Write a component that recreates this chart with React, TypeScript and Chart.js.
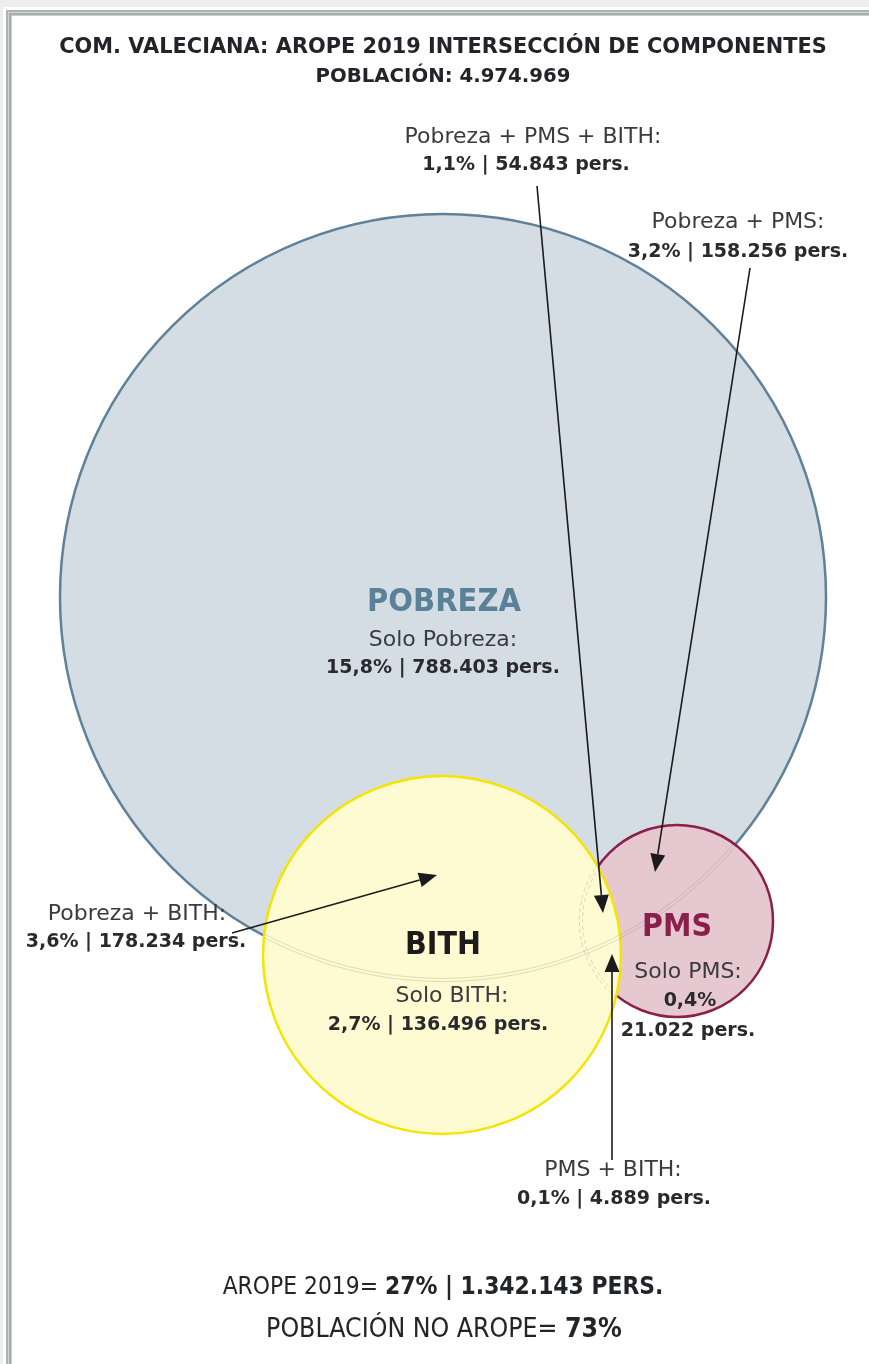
import { useEffect, useRef } from "react";
import { Chart, registerables } from "chart.js";

Chart.register(...registerables);

const CANVAS_W = 869;
const CANVAS_H = 1364;

// ---- Data ----
const titleLine = "COM. VALECIANA: AROPE 2019 INTERSECCIÓN DE COMPONENTES";
const population = 4974969;
const aropeTotalPersons = 1342143;
const aropePct = 27;
const noAropePct = 73;

const setNames = ["POBREZA", "BITH", "PMS"];
// Circle centres and radii in diagram units
const setCenterX = [443, 442, 677];
const setCenterY = [597, 955, 921];
const setRadius = [383, 179, 96];
const setFill = ["#d4dde4", "#fefbd2", "#e6c8d1"];
const setStroke = ["#5f8199", "#f5e400", "#8a2049"];
const setLabelColor = ["#5b8199", "#1c1c1c", "#8b1f4b"];
const setDrawOrder = [3, 1, 2];

const segmentNames = [
  "Solo Pobreza:",
  "Solo BITH:",
  "Solo PMS:",
  "Pobreza + PMS + BITH:",
  "Pobreza + PMS:",
  "Pobreza + BITH:",
  "PMS + BITH:",
];
const segmentPct = [15.8, 2.7, 0.4, 1.1, 3.2, 3.6, 0.1];
const segmentPersons = [788403, 136496, 21022, 54843, 158256, 178234, 4889];

// label layout: [nameCx, nameCy, valueCx, valueCy]
const segmentLabelLayout = [
  [443, 640, 443, 668],
  [452, 996, 438, 1025],
  [688, 972, 688, 1031],
  [533, 137, 526, 165],
  [738, 222, 738, 252],
  [137, 914, 136, 942],
  [613, 1170, 614, 1199],
];

// arrows for segments 3..6
const arrowSegments = [3, 4, 5, 6];
const arrowFrom = [
  [537, 186],
  [750, 268],
  [232, 933],
  [612, 1160],
];
const arrowTo = [
  [603, 913],
  [655, 872],
  [437, 875],
  [612, 954],
];

// set name label layout [cx, cy, w]
const setLabelLayout = [
  [444, 603, 154],
  [443, 946, 76],
  [677, 928, 70],
];

const LABEL_FONT = '"DejaVu Sans", "Noto Sans", sans-serif';
const TITLE_FONT = '"DejaVu Sans", "Noto Sans", sans-serif';
const COND_FONT = '"Liberation Sans Narrow", "DejaVu Sans Condensed", "Roboto", sans-serif';

const fmtInt = (n: number) => String(n).replace(/\B(?=(\d{3})+(?!\d))/g, ".");
const fmtPct = (p: number) => p.toFixed(1).replace(".", ",") + "%";

type Run = { t: string; bold: boolean };
type TextItem = { runs: Run[]; cx: number; cy: number; w: number; size?: number; family: string; color: string };

function fitSize(ctx: CanvasRenderingContext2D, text: string, bold: boolean, family: string, w: number) {
  ctx.font = `${bold ? "bold" : "normal"} 100px ${family}`;
  return (100 * w) / ctx.measureText(text).width;
}

function buildTexts(ctx: CanvasRenderingContext2D): TextItem[] {
  const nameSize = fitSize(ctx, "Pobreza + PMS + BITH:", false, LABEL_FONT, 257);
  const valueSize = fitSize(ctx, "15,8% | 788.403 pers.", true, LABEL_FONT, 234);
  const items: TextItem[] = [];
  items.push({ runs: [{ t: titleLine, bold: true }], cx: 443, cy: 48, w: 768, family: TITLE_FONT, color: "#23232a" });
  items.push({
    runs: [{ t: "POBLACIÓN: " + fmtInt(population), bold: true }],
    cx: 443, cy: 77, w: 255, family: TITLE_FONT, color: "#23232a",
  });
  setNames.forEach((n, i) => {
    const [cx, cy, w] = setLabelLayout[i];
    items.push({ runs: [{ t: n, bold: true }], cx, cy, w, family: COND_FONT, color: setLabelColor[i] });
  });
  segmentNames.forEach((n, i) => {
    const [ncx, ncy, vcx, vcy] = segmentLabelLayout[i];
    items.push({ runs: [{ t: n, bold: false }], cx: ncx, cy: ncy, w: 0, size: nameSize, family: LABEL_FONT, color: "#3a3a40" });
    if (i === 2) {
      items.push({ runs: [{ t: fmtPct(segmentPct[i]), bold: true }], cx: 690, cy: 1001, w: 0, size: valueSize, family: LABEL_FONT, color: "#2a2a2e" });
      items.push({ runs: [{ t: fmtInt(segmentPersons[i]) + " pers.", bold: true }], cx: vcx, cy: vcy, w: 0, size: valueSize, family: LABEL_FONT, color: "#2a2a2e" });
    } else {
      items.push({
        runs: [{ t: fmtPct(segmentPct[i]) + " | " + fmtInt(segmentPersons[i]) + " pers.", bold: true }],
        cx: vcx, cy: vcy, w: 0, size: valueSize, family: LABEL_FONT, color: "#2a2a2e",
      });
    }
  });
  items.push({
    runs: [
      { t: "AROPE 2019= ", bold: false },
      { t: aropePct + "% | " + fmtInt(aropeTotalPersons) + " PERS.", bold: true },
    ],
    cx: 443, cy: 1288, w: 441, family: COND_FONT, color: "#23232a",
  });
  items.push({
    runs: [
      { t: "POBLACIÓN NO AROPE= ", bold: false },
      { t: noAropePct + "%", bold: true },
    ],
    cx: 444, cy: 1330, w: 356, family: COND_FONT, color: "#23232a",
  });
  return items;
}

function drawTextItem(ctx: CanvasRenderingContext2D, it: TextItem, px: (v: number) => number, py: (v: number) => number) {
  let size: number;
  if (it.size) {
    size = it.size;
  } else {
    const base = 100;
    const total = it.runs
      .map((r) => {
        ctx.font = `${r.bold ? "bold" : "normal"} ${base}px ${it.family}`;
        return ctx.measureText(r.t).width;
      })
      .reduce((a, b) => a + b, 0);
    const targetW = px(it.cx + it.w / 2) - px(it.cx - it.w / 2);
    size = (base * targetW) / total;
  }
  const widths = it.runs.map((r) => {
    ctx.font = `${r.bold ? "bold" : "normal"} ${size}px ${it.family}`;
    return ctx.measureText(r.t).width;
  });
  const total = widths.reduce((a, b) => a + b, 0);
  let x = px(it.cx) - total / 2;
  const y = py(it.cy);
  ctx.textBaseline = "middle";
  ctx.textAlign = "left";
  ctx.fillStyle = it.color;
  it.runs.forEach((r, k) => {
    ctx.font = `${r.bold ? "bold" : "normal"} ${size}px ${it.family}`;
    ctx.fillText(r.t, x, y);
    x += widths[k];
  });
}

function drawArrow(ctx: CanvasRenderingContext2D, x1: number, y1: number, x2: number, y2: number) {
  const ang = Math.atan2(y2 - y1, x2 - x1);
  const headL = 18;
  const headW = 7.5;
  const bx = x2 - headL * Math.cos(ang);
  const by = y2 - headL * Math.sin(ang);
  ctx.strokeStyle = "#1b1b1b";
  ctx.fillStyle = "#1b1b1b";
  ctx.lineWidth = 1.6;
  ctx.beginPath();
  ctx.moveTo(x1, y1);
  ctx.lineTo(bx, by);
  ctx.stroke();
  ctx.beginPath();
  ctx.moveTo(x2, y2);
  ctx.lineTo(bx + headW * Math.sin(ang), by - headW * Math.cos(ang));
  ctx.lineTo(bx - headW * Math.sin(ang), by + headW * Math.cos(ang));
  ctx.closePath();
  ctx.fill();
}

const framePlugin = {
  id: "frame",
  beforeDraw(chart: any) {
    const ctx: CanvasRenderingContext2D = chart.ctx;
    const W = chart.width;
    const H = chart.height;
    ctx.save();
    ctx.fillStyle = "#eeeeee";
    ctx.fillRect(0, 0, W, H);
    ctx.fillStyle = "#ffffff";
    ctx.fillRect(3, 7, W, H);
    ctx.fillStyle = "#aeb3b3";
    ctx.fillRect(6, 10, W, H);
    ctx.fillStyle = "#d2d6d6";
    ctx.fillRect(8, 12, W, H);
    ctx.fillStyle = "#a8adad";
    ctx.fillRect(9, 13, W, H);
    ctx.fillStyle = "#c9cdcd";
    ctx.fillRect(11, 15, W, H);
    ctx.fillStyle = "#ffffff";
    ctx.fillRect(12, 16, W, H);
    ctx.restore();
  },
};

const overlayPlugin = {
  id: "overlay",
  afterDatasetsDraw(chart: any) {
    const ctx: CanvasRenderingContext2D = chart.ctx;
    const xs = chart.scales.x;
    const ys = chart.scales.y;
    const px = (v: number) => xs.getPixelForValue(v);
    const py = (v: number) => ys.getPixelForValue(v);
    const el = (i: number) => {
      const e = chart.getDatasetMeta(i).data[0];
      return { x: e.x, y: e.y, r: e.options.radius };
    };
    const pob = el(0);
    const bith = el(1);
    const pms = el(2);

    ctx.save();
    // faint hidden outline of POBREZA inside BITH and PMS
    ctx.beginPath();
    ctx.arc(bith.x, bith.y, bith.r - 1, 0, Math.PI * 2);
    ctx.moveTo(pms.x + pms.r - 1, pms.y);
    ctx.arc(pms.x, pms.y, pms.r - 1, 0, Math.PI * 2);
    ctx.clip();
    ctx.strokeStyle = "rgba(120,120,120,0.28)";
    ctx.lineWidth = 0.9;
    [-1.6, 1.6].forEach((d) => {
      ctx.beginPath();
      ctx.arc(pob.x, pob.y, pob.r + d, 0, Math.PI * 2);
      ctx.stroke();
    });
    ctx.restore();

    ctx.save();
    // faint dashed outline of PMS inside BITH
    ctx.beginPath();
    ctx.arc(bith.x, bith.y, bith.r - 1.5, 0, Math.PI * 2);
    ctx.clip();
    ctx.strokeStyle = "rgba(120,120,120,0.3)";
    ctx.lineWidth = 0.9;
    ctx.setLineDash([4, 3]);
    [-1.6, 1.6].forEach((d) => {
      ctx.beginPath();
      ctx.arc(pms.x, pms.y, pms.r + d, 0, Math.PI * 2);
      ctx.stroke();
    });
    ctx.restore();

    ctx.save();
    arrowSegments.forEach((_, i) => {
      drawArrow(ctx, px(arrowFrom[i][0]), py(arrowFrom[i][1]), px(arrowTo[i][0]), py(arrowTo[i][1]));
    });
    buildTexts(ctx).forEach((t) => drawTextItem(ctx, t, px, py));
    ctx.restore();
  },
};

export default function App() {
  const ref = useRef<HTMLCanvasElement | null>(null);
  useEffect(() => {
    if (!ref.current) return;
    const chart = new Chart(ref.current, {
      type: "bubble",
      data: {
        datasets: setNames.map((n, i) => ({
          label: n,
          data: [{ x: setCenterX[i], y: setCenterY[i], r: setRadius[i] }],
          backgroundColor: setFill[i],
          borderColor: setStroke[i],
          borderWidth: 2.5,
          hoverBackgroundColor: setFill[i],
          hoverBorderColor: setStroke[i],
          order: setDrawOrder[i],
          clip: false as any,
        })),
      },
      options: {
        responsive: false,
        animation: false,
        devicePixelRatio: 1,
        events: [],
        layout: { padding: 0, autoPadding: false },
        scales: {
          x: { type: "linear", min: 0, max: CANVAS_W, display: false },
          y: { type: "linear", min: 0, max: CANVAS_H, reverse: true, display: false },
        },
        plugins: {
          legend: { display: false },
          tooltip: { enabled: false },
          title: { display: false },
        },
      },
      plugins: [framePlugin, overlayPlugin],
    });
    return () => chart.destroy();
  }, []);
  return (
    <div style={{ position: "absolute", left: 0, top: 0, width: CANVAS_W, height: CANVAS_H, overflow: "hidden" }}>
      <canvas ref={ref} width={CANVAS_W} height={CANVAS_H} style={{ display: "block" }} />
    </div>
  );
}
